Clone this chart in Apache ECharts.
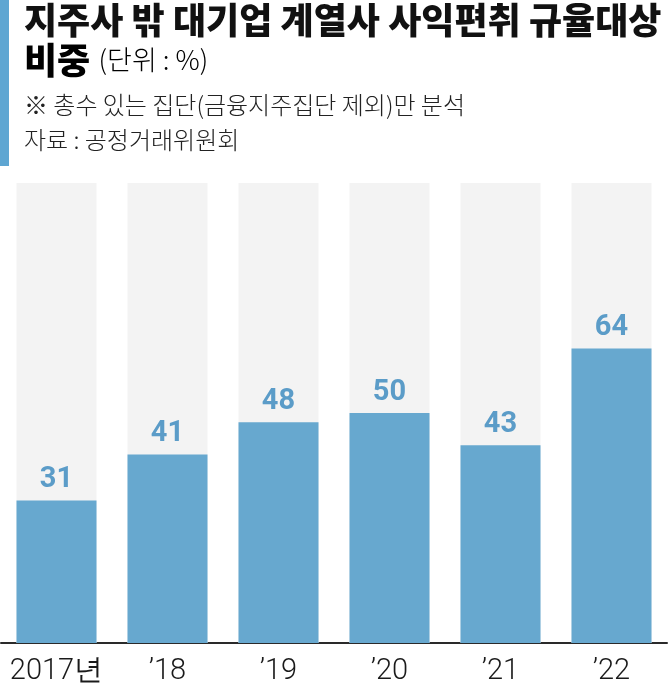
<!DOCTYPE html>
<html>
<head>
<meta charset="utf-8">
<script src="https://cdn.jsdelivr.net/npm/echarts@6/dist/echarts.min.js"></script>
<style>
html,body{margin:0;padding:0;background:#fff;}
#chart{width:668px;height:691px;}
</style>
</head>
<body>
<div id="chart"></div>
<script>
const categories = ['2017년', '\u201918', '\u201919', '\u201920', '\u201921', '\u201922'];
const values = [31, 41, 48, 50, 43, 64];
const titleLine1 = '지주사 밖 대기업 계열사 사익편취 규율대상';
const titleLine2 = '비중';
const unitText = '(단위 : %)';
const noteText = '※ 총수 있는 집단(금융지주집단 제외)만 분석';
const sourceText = '자료 : 공정거래위원회';

const KR = '"Noto Sans CJK KR", "Noto Sans", sans-serif';
const NUM = '"Roboto", "Liberation Sans", sans-serif';

const chart = echarts.init(document.getElementById('chart'), null, {renderer: 'canvas'});
chart.setOption({
  backgroundColor: '#ffffff',
  animation: false,
  grid: {left: 1, right: 1, top: 183, bottom: 48, containLabel: false},
  xAxis: {
    type: 'category',
    data: categories,
    axisLine: {show: true, lineStyle: {color: '#2a2a2a', width: 2}},
    axisTick: {show: false},
    axisLabel: {interval: 0, fontFamily: NUM, fontWeight: 300, fontSize: 29, color: '#1a1a1a', margin: 14}
  },
  yAxis: {
    type: 'value', min: 0, max: 100,
    show: false, splitLine: {show: false}
  },
  series: [{
    type: 'bar',
    data: values,
    barWidth: 80,
    itemStyle: {color: '#67a8cf'},
    showBackground: true,
    backgroundStyle: {color: '#f3f3f3'},
    label: {
      show: true, position: 'top', distance: 6,
      fontFamily: NUM, fontWeight: 'bold', fontSize: 29, color: '#5b9cc8'
    }
  }],
  graphic: [
    {type: 'rect', left: 0, top: 0, shape: {x: 0, y: 0, width: 9, height: 166}, style: {fill: '#5ea6d2'}},
    {type: 'text', left: 24, top: 2, style: {text: titleLine1, font: '900 36px ' + KR, fill: '#111'}},
    {type: 'text', left: 24, top: 42, style: {
      text: '{a|' + titleLine2 + '} {b|' + unitText + '}',
      rich: {
        a: {fontSize: 36, fontWeight: 900, fontFamily: KR, color: '#111'},
        b: {fontSize: 27, fontFamily: KR, fontWeight: 300, color: '#222', padding: [0, 0, 0, 5]}
      }
    }},
    {type: 'text', left: 24, top: 93, style: {text: noteText, font: '300 24px ' + KR, fill: '#222'}},
    {type: 'text', left: 24, top: 128, style: {text: sourceText, font: '300 24px ' + KR, fill: '#222'}}
  ]
});
</script>
</body>
</html>
